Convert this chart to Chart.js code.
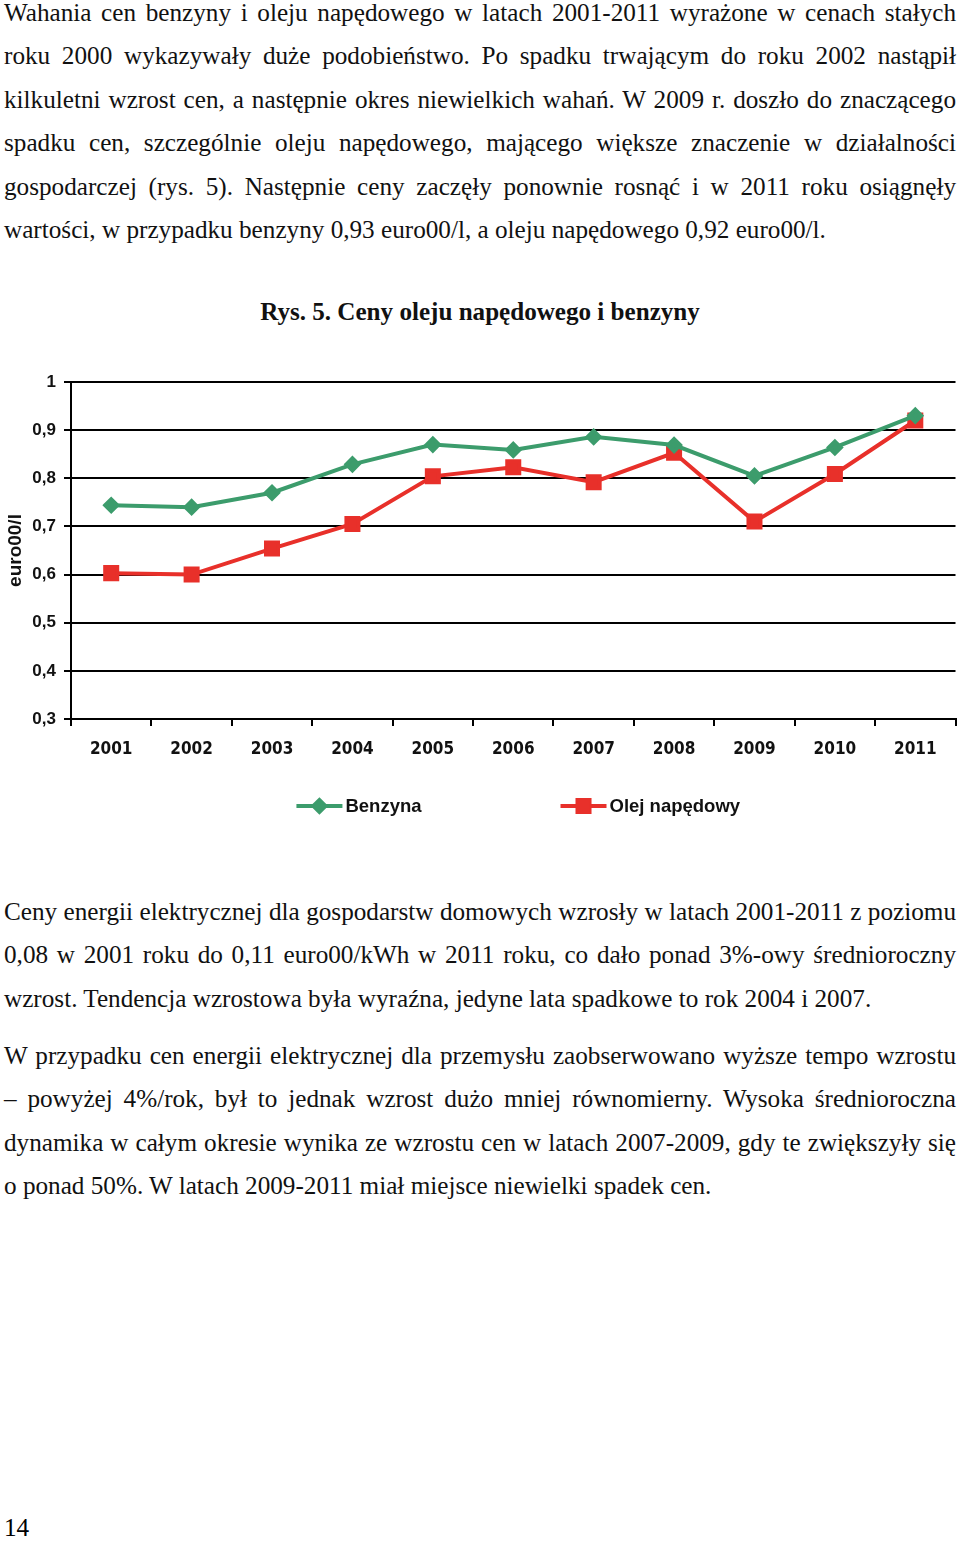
<!DOCTYPE html>
<html>
<head>
<meta charset="utf-8">
<script src="https://cdn.jsdelivr.net/npm/chart.js@4.4.1/dist/chart.umd.min.js"></script>
<style>
  body { margin: 0; background: #fff; width: 960px; height: 1541px; position: relative; overflow: hidden; }
  .txt { position: absolute; left: 4px; width: 952px; font-family: "Liberation Serif", "Times New Roman", serif;
         font-size: 25.2px; line-height: 43.6px; color: #111; }
  .txt div { text-align: justify; text-align-last: justify; white-space: nowrap; }
  .txt div.last { text-align-last: left; }
  #title { position: absolute; top: 298px; left: 0; width: 960px; text-align: center;
           font-family: "Liberation Serif", serif; font-weight: bold; font-size: 25.1px; color: #111; }
  #wrap { position: absolute; left: 0; top: 360px; width: 968px; height: 480px; }
  #page { position: absolute; left: 4px; top: 1506px; font-family: "Liberation Serif", serif; font-size: 25.2px; line-height: 43.6px; }
</style>
</head>
<body>

<div class="txt" style="top:-9.5px">
  <div>Wahania cen benzyny i oleju napędowego w latach 2001-2011 wyrażone w cenach stałych</div>
  <div>roku 2000 wykazywały duże podobieństwo. Po spadku trwającym do roku 2002 nastąpił</div>
  <div>kilkuletni wzrost cen, a następnie okres niewielkich wahań. W 2009 r. doszło do znaczącego</div>
  <div>spadku cen, szczególnie oleju napędowego, mającego większe znaczenie w działalności</div>
  <div>gospodarczej (rys. 5). Następnie ceny zaczęły ponownie rosnąć i w 2011 roku osiągnęły</div>
  <div class="last">wartości, w przypadku benzyny 0,93 euro00/l, a oleju napędowego 0,92 euro00/l.</div>
</div>

<div id="title">Rys. 5. Ceny oleju napędowego i benzyny</div>

<div id="wrap"><canvas id="chart" width="968" height="480"></canvas></div>

<div class="txt" style="top:889.5px">
  <div>Ceny energii elektrycznej dla gospodarstw domowych wzrosły w latach 2001-2011 z poziomu</div>
  <div>0,08 w 2001 roku do 0,11 euro00/kWh w 2011 roku, co dało ponad 3%-owy średnioroczny</div>
  <div class="last">wzrost. Tendencja wzrostowa była wyraźna, jedyne lata spadkowe to rok 2004 i 2007.</div>
</div>

<div class="txt" style="top:1033.5px">
  <div>W przypadku cen energii elektrycznej dla przemysłu zaobserwowano wyższe tempo wzrostu</div>
  <div>– powyżej 4%/rok, był to jednak wzrost dużo mniej równomierny. Wysoka średnioroczna</div>
  <div>dynamika w całym okresie wynika ze wzrostu cen w latach 2007-2009, gdy te zwiększyły się</div>
  <div class="last">o ponad 50%. W latach 2009-2011 miał miejsce niewielki spadek cen.</div>
</div>

<div id="page">14</div>

<script>
// dane
const lata = ["2001", "2002", "2003", "2004", "2005", "2006", "2007", "2008", "2009", "2010", "2011"];
const benzyna = [0.744, 0.740, 0.770, 0.829, 0.870, 0.859, 0.886, 0.869, 0.805, 0.864, 0.93];
const olej = [0.603, 0.600, 0.654, 0.705, 0.804, 0.823, 0.792, 0.853, 0.710, 0.809, 0.92];
const yEtykiety = ["0,3", "0,4", "0,5", "0,6", "0,7", "0,8", "0,9", "1"];

const ZIELONY = "#3c9c6c";
const CZERWONY = "#e8302a";

// legenda: linia z markerem jak w Excelu
const legendaPlugin = {
  id: "legenda",
  afterDraw(chart) {
    const ctx = chart.ctx;
    const area = chart.chartArea;
    const y = 446;
    ctx.save();
    ctx.font = "bold 18.5px 'Liberation Sans', Arial, sans-serif";
    ctx.textBaseline = "middle";
    const items = chart.data.datasets.map(ds => ({
      ds, w: 46 + 3 + ctx.measureText(ds.label).width
    }));
    const gap = 139;
    const total = items.reduce((s, it) => s + it.w, 0) + gap * (items.length - 1);
    let x = (area.left + area.right) / 2 + 5 - total / 2;
    items.forEach(it => {
      const ds = it.ds;
      ctx.strokeStyle = ds.borderColor;
      ctx.lineWidth = 4;
      ctx.beginPath();
      ctx.moveTo(x, y);
      ctx.lineTo(x + 46, y);
      ctx.stroke();
      Chart.helpers.drawPoint(ctx, {
        pointStyle: ds.pointStyle, radius: ds.pointRadius, borderWidth: 1
      }, x + 23, y);
      ctx.fillStyle = ds.pointBackgroundColor;
      ctx.fill();
      ctx.fillStyle = "#111";
      ctx.fillText(ds.label, x + 49, y + 1);
      x += it.w + gap;
    });
    ctx.restore();
  }
};

const ctx = document.getElementById("chart").getContext("2d");
new Chart(ctx, {
  type: "line",
  data: {
    labels: lata,
    datasets: [{
      label: "Benzyna",
      data: benzyna,
      borderColor: ZIELONY,
      backgroundColor: ZIELONY,
      pointBackgroundColor: ZIELONY,
      pointBorderColor: ZIELONY,
      pointStyle: "rectRot",
      pointRadius: 6,
      borderWidth: 4,
      tension: 0
    }, {
      label: "Olej napędowy",
      data: olej,
      borderColor: CZERWONY,
      backgroundColor: CZERWONY,
      pointBackgroundColor: CZERWONY,
      pointBorderColor: CZERWONY,
      pointStyle: "rect",
      pointRadius: 8.5,
      borderWidth: 4,
      tension: 0
    }]
  },
  options: {
    responsive: false,
    animation: false,
    layout: { padding: { top: 22, right: 0, bottom: 81, left: 0 } },
    plugins: { legend: { display: false }, tooltip: { enabled: false } },
    scales: {
      x: {
        offset: true,
        grid: { offset: true, drawOnChartArea: false, drawTicks: true, tickLength: 7, color: "#000", lineWidth: 2 },
        border: { color: "#000", width: 2 },
        ticks: {
          color: "#111", padding: 13,
          font: { family: "'Liberation Sans Narrow', 'DejaVu Sans Condensed', Arial", size: 17, weight: "bold" }
        },
        afterFit(scale) { scale.height = 40; }
      },
      y: {
        min: 0.3, max: 1,
        ticks: {
          stepSize: 0.1, color: "#111", padding: 8,
          font: { family: "'Liberation Sans', Arial", size: 17, weight: "bold" },
          callback: (v, i) => yEtykiety[i]
        },
        grid: { color: "#000", lineWidth: 2, tickLength: 7 },
        border: { color: "#000", width: 2 },
        title: {
          display: true, text: "euro00/l", color: "#111",
          font: { family: "'Liberation Sans', Arial", size: 19, weight: "bold" },
          padding: { top: 4, bottom: 0 }
        },
        afterFit(scale) { scale.width = 71; }
      }
    }
  },
  plugins: [legendaPlugin]
});
</script>
</body>
</html>
